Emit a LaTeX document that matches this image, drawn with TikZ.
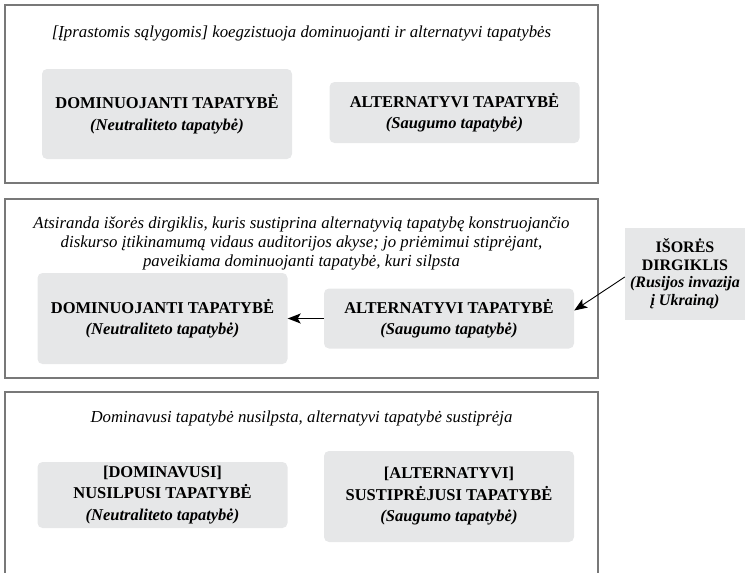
\documentclass[tikz,border=0pt]{standalone}
\usepackage{fontspec}
\setmainfont{Liberation Serif}
\usetikzlibrary{positioning,arrows.meta}
\definecolor{idgray}{RGB}{230,231,232}
\definecolor{framegray}{RGB}{120,120,120}

\begin{document}
\begin{tikzpicture}[x=1pt,y=-1pt,
  panel/.style={draw=framegray,line width=1.3pt,inner sep=0pt,minimum width=593pt},
  idbox/.style={fill=idgray,rounded corners=5pt,align=center,inner sep=0pt,
    minimum width=250pt,font=\fontsize{16.5}{21.5}\selectfont\bfseries},
  stimbox/.style={fill=idgray,align=center,inner sep=0pt,minimum width=120pt,
    minimum height=92pt,font=\fontsize{16}{17.5}\selectfont\bfseries},
  caption/.style={align=center,font=\fontsize{16.8}{19}\selectfont\itshape},
  push/.style={-{Stealth[length=13pt,width=10pt,inset=3pt]},line width=1.3pt}]
\useasboundingbox (0,0) rectangle (748,573);
% ordinary conditions
\node[panel,minimum height=178pt] (p_1) at (301.5,94) {};
\node[caption] (c_1) at (301.5,33) {[Įprastomis sąlygomis] koegzistuoja dominuojanti ir alternatyvi tapatybės};
\node[idbox,minimum height=90pt] (dom_1) at (167,114) {DOMINUOJANTI TAPATYBĖ\\\textit{(Neutraliteto tapatybė)}};
\node[idbox,minimum height=61pt] (alt_1) at (454.5,112.5) {ALTERNATYVI TAPATYBĖ\\\textit{(Saugumo tapatybė)}};
% external stimulus
\node[panel,minimum height=179pt] (p_2) at (301.5,288.5) {};
\node[caption] (c_2) at (301.5,243) {Atsiranda išorės dirgiklis, kuris sustiprina alternatyvią tapatybę konstruojančio\\diskurso įtikinamumą vidaus auditorijos akyse; jo priėmimui stiprėjant,\\paveikiama dominuojanti tapatybė, kuri silpsta};
\node[idbox,minimum height=91pt] (dom_2) at (162.5,318.5) {DOMINUOJANTI TAPATYBĖ\\\textit{(Neutraliteto tapatybė)}};
\node[idbox,minimum height=60pt] (alt_2) at (449,318.5) {ALTERNATYVI TAPATYBĖ\\\textit{(Saugumo tapatybė)}};
\node[stimbox] (dirg) at (685,274) {IŠORĖS\\DIRGIKLIS\\\textit{(Rusijos invazija}\\\textit{į Ukrainą)}};
\path[push] (alt_2) edge (dom_2);
\draw[push,line width=0.9pt] ([yshift=-3pt]dirg.west) -- ([yshift=8pt]alt_2.east);
% result
\node[panel,minimum height=186pt] (p_3) at (301.5,485) {};
\node[caption] (c_3) at (301.5,418) {Dominavusi tapatybė nusilpsta, alternatyvi tapatybė sustiprėja};
\node[idbox,minimum height=66pt] (dom_3) at (162.5,495) {[DOMINAVUSI]\\NUSILPUSI TAPATYBĖ\\\textit{(Neutraliteto tapatybė)}};
\node[idbox,minimum height=91pt] (alt_3) at (449,496.5) {[ALTERNATYVI]\\SUSTIPRĖJUSI TAPATYBĖ\\\textit{(Saugumo tapatybė)}};
\end{tikzpicture}
\end{document}
